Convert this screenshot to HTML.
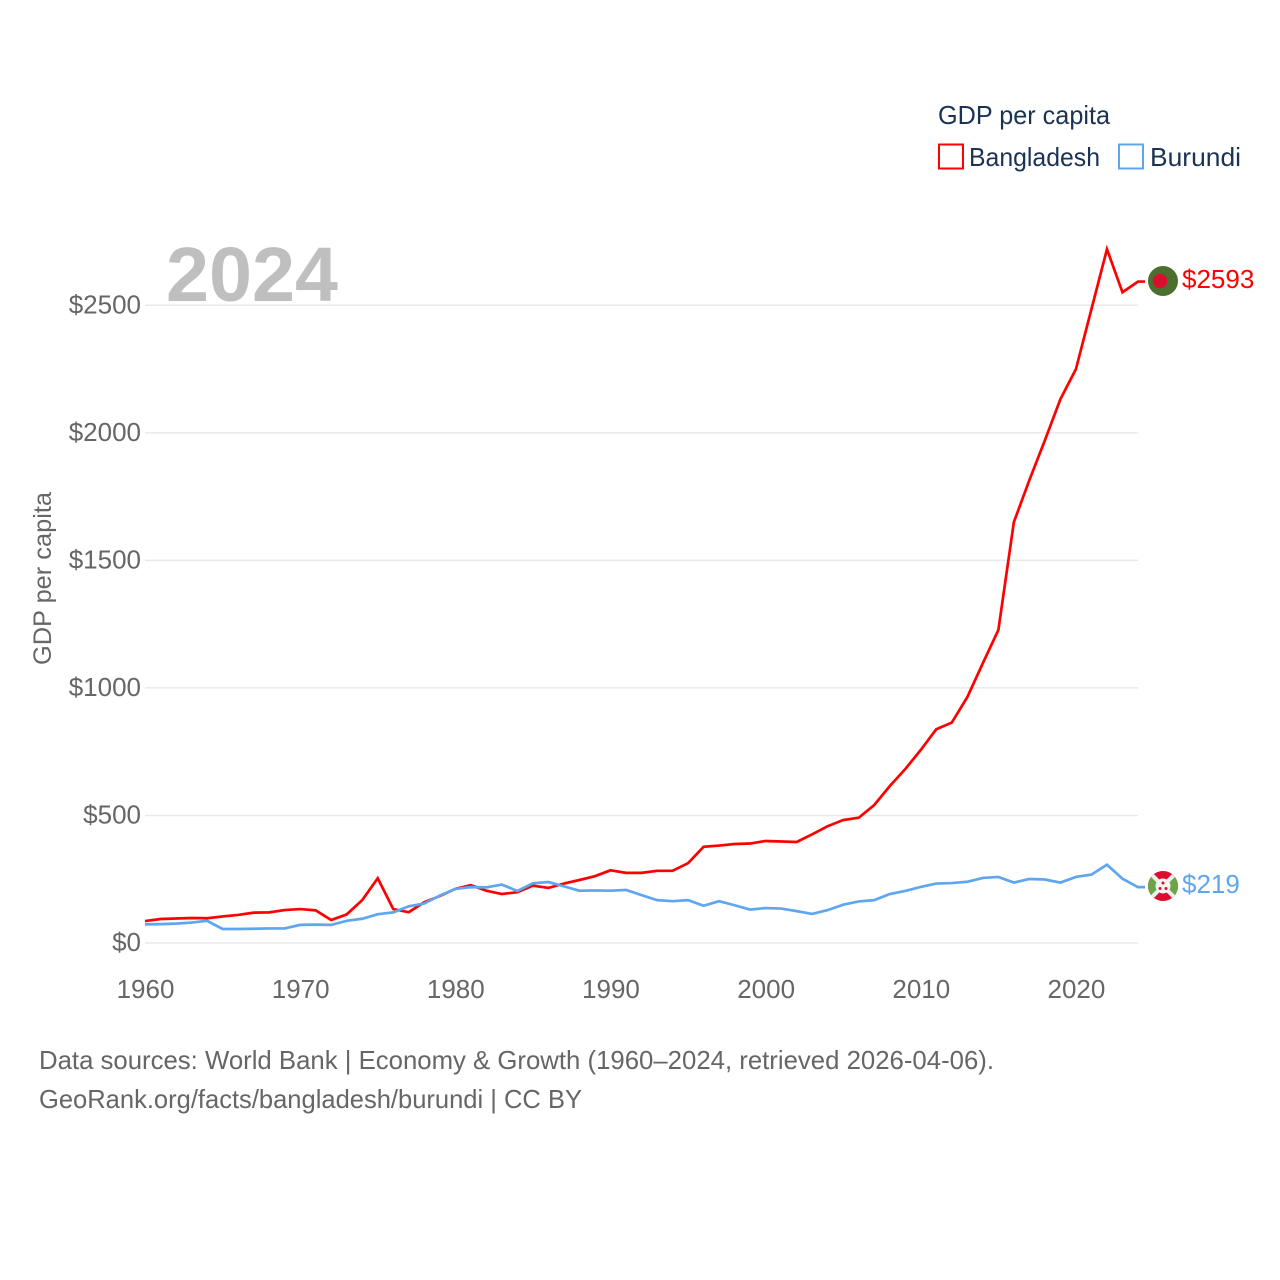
<!DOCTYPE html>
<html lang="en">
<head>
<meta charset="utf-8">
<title>GDP per capita: Bangladesh and Burundi</title>
<style>
html,body{margin:0;padding:0;background:#fff;width:1280px;height:1280px;overflow:hidden}
svg{display:block}
text{font-family:"Liberation Sans",sans-serif}
</style>
</head>
<body>
<svg id="chart" width="1280" height="1280" viewBox="0 0 1280 1280" xmlns="http://www.w3.org/2000/svg">
  <rect width="1280" height="1280" fill="#fff"/>
  <g id="grid"></g>
  <g id="yticks"></g>
  <g id="xticks"></g>
  <text x="166" y="301" font-size="77" font-weight="700" fill="#bfbfbf" textLength="172" lengthAdjust="spacingAndGlyphs">2024</text>
  <text transform="translate(51,665) rotate(-90)" font-size="25" fill="#666" textLength="173" lengthAdjust="spacingAndGlyphs">GDP per capita</text>
  <g id="series"></g>

  <g>
    <text x="938" y="124" font-size="26" fill="#1a3355" textLength="172" lengthAdjust="spacingAndGlyphs">GDP per capita</text>
    <rect x="939" y="144.5" width="24" height="24" fill="none" stroke="#ff0000" stroke-width="2"/>
    <text x="969" y="166" font-size="26" fill="#1a3355" textLength="131" lengthAdjust="spacingAndGlyphs">Bangladesh</text>
    <rect x="1119" y="144.5" width="24" height="24" fill="none" stroke="#5ea6f0" stroke-width="2"/>
    <text x="1150" y="166" font-size="26" fill="#1a3355" textLength="91" lengthAdjust="spacingAndGlyphs">Burundi</text>
  </g>

  <g>
    <circle cx="1163" cy="281" r="15" fill="#4c6e2e"/>
    <circle cx="1160" cy="281" r="7.2" fill="#dc0d2e"/>
  </g>
  <g>
    <clipPath id="burundi-clip"><circle cx="1163" cy="886" r="15"/></clipPath>
    <g clip-path="url(#burundi-clip)">
      <rect x="1148" y="871" width="30" height="30" fill="#dc0d2e"/>
      <path d="M1148 871L1163 886L1148 901Z M1178 871L1163 886L1178 901Z" fill="#6fa347"/>
      <path d="M1148 871L1178 901M1178 871L1148 901" stroke="#eeeeee" stroke-width="4"/>
      <circle cx="1163" cy="886" r="7.5" fill="#f4f4f4"/>
      <circle cx="1163" cy="883" r="1.5" fill="#dc0d2e"/>
      <circle cx="1160" cy="888.5" r="1.5" fill="#dc0d2e"/>
      <circle cx="1166" cy="888.5" r="1.5" fill="#dc0d2e"/>
    </g>
  </g>
  <text id="value-bangladesh" x="1182" y="288" font-size="26" fill="#ff0000">$2593</text>
  <text id="value-burundi" x="1182" y="893" font-size="26" fill="#5ea6f0">$219</text>

  <text x="39" y="1069" font-size="26" fill="#666" textLength="955" lengthAdjust="spacingAndGlyphs">Data sources: World Bank | Economy &amp; Growth (1960–2024, retrieved 2026-04-06).</text>
  <text x="39" y="1108" font-size="26" fill="#666" textLength="543" lengthAdjust="spacingAndGlyphs">GeoRank.org/facts/bangladesh/burundi | CC BY</text>
</svg>
<script>
const years = [1960,1961,1962,1963,1964,1965,1966,1967,1968,1969,1970,1971,1972,1973,1974,1975,1976,1977,1978,1979,1980,1981,1982,1983,1984,1985,1986,1987,1988,1989,1990,1991,1992,1993,1994,1995,1996,1997,1998,1999,2000,2001,2002,2003,2004,2005,2006,2007,2008,2009,2010,2011,2012,2013,2014,2015,2016,2017,2018,2019,2020,2021,2022,2023,2024];
const bangladesh = [86,94,96,98,97,104,110,119,120,129,133,128,90,112,168,254,133,121,160,184,212,227,205,192,199,225,216,233,247,262,285,275,275,283,283,313,377,382,388,390,400,398,396,426,458,482,491,541,615,682,757,838,864,964,1097,1227,1650,1815,1971,2132,2250,2485,2720,2551,2593];
const burundi = [73,74,76,80,87,55,55,56,57,57,71,72,71,87,95,113,120,144,155,186,212,219,218,229,204,234,239,222,205,206,205,208,188,168,164,168,146,164,148,131,137,135,125,114,129,150,163,168,192,204,220,233,235,240,255,259,237,251,249,237,259,268,307,252,219];
const yTickValues = [0,500,1000,1500,2000,2500];
const xTickValues = [1960,1970,1980,1990,2000,2010,2020];

const NS = 'http://www.w3.org/2000/svg';
const xScale = year => 145 + (year - 1960) * (1138 - 145) / 64;
const yScale = value => 943 - value * (943 - 305.3) / 2500;

function make(tag, parent, attrs) {
  const el = document.createElementNS(NS, tag);
  for (const k in attrs) el.setAttribute(k, attrs[k]);
  parent.appendChild(el);
  return el;
}

const grid = document.getElementById('grid');
const yticks = document.getElementById('yticks');
const xticks = document.getElementById('xticks');
const seriesGroup = document.getElementById('series');

yTickValues.forEach(v => {
  const line = make('line', grid, {x1: 145, x2: 1138, y1: yScale(v), y2: yScale(v), stroke: '#e9e9e9', 'stroke-width': 1.5});
  
  
  const label = make('text', yticks, {x: 141, y: yScale(v) + 8, 'text-anchor': 'end', 'font-size': 26, fill: '#666'});
  
  
  label.textContent = '$' + v;
});

xTickValues.forEach(y => {
  const label = make('text', xticks, {x: xScale(y) + 0.5, y: 998, 'text-anchor': 'middle', 'font-size': 26, fill: '#666'});
  
  
  label.textContent = y;
});

function drawSeries(values, color) {
  const pts = values.map((v, i) => xScale(years[i]).toFixed(2) + ',' + yScale(v).toFixed(2));
  const last = values[values.length - 1];
  pts.push((xScale(years[years.length - 1]) + 7).toFixed(2) + ',' + yScale(last).toFixed(2));
  return make('polyline', seriesGroup, {points: pts.join(' '), fill: 'none', stroke: color, 'stroke-width': 2.7, 'stroke-linejoin': 'miter'});
}

const lineBangladesh = drawSeries(bangladesh, '#ff0000');


const lineBurundi = drawSeries(burundi, '#5ea6f0');



document.getElementById('value-bangladesh').textContent = '$' + bangladesh[bangladesh.length - 1];
document.getElementById('value-burundi').textContent = '$' + burundi[burundi.length - 1];
</script>
</body>
</html>
